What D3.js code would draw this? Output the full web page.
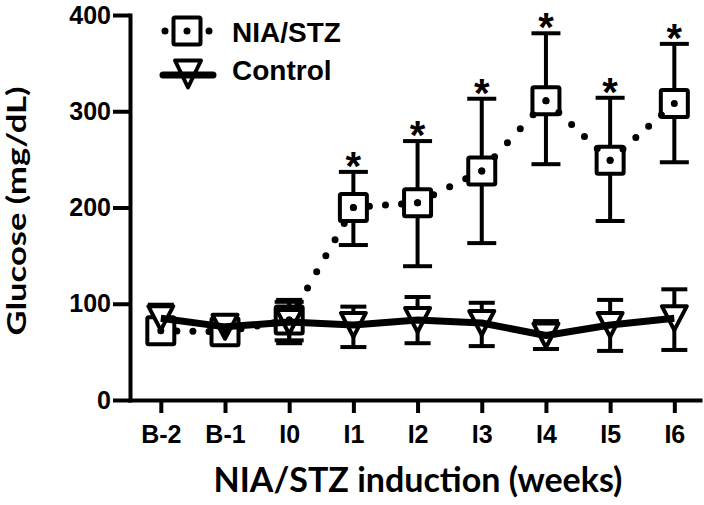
<!DOCTYPE html>
<html><head><meta charset="utf-8">
<script src="https://cdn.jsdelivr.net/npm/d3@7"></script>
<style>
html,body{margin:0;padding:0;background:#fff;}
svg{display:block;}
</style></head>
<body>
<script>
const categories = ["B-2","B-1","I0","I1","I2","I3","I4","I5","I6"];
const niaMean  = [72, 71, 83, 200, 205, 238, 311, 249, 308];
const niaUpper = [80, 77, 102, 237, 269, 313, 381, 314, 370];
const niaLower = [63, 65, 62, 161, 139, 163, 245, 186, 247];
const ctrlMean  = [85, 76, 81, 78, 83, 80, 67, 78, 85];
const ctrlUpper = [99, 84, 104, 97, 107, 101, 82, 104, 115];
const ctrlLower = [72, 68, 59, 55, 59, 56, 53, 51, 52];
const significant = [false, false, false, true, true, true, true, true, true];
const yTicks = [0, 100, 200, 300, 400];
const seriesNames = ["NIA/STZ", "Control"];
const xTitle = "NIA/STZ induction (weeks)";
const yTitle = "Glucose (mg/dL)";

const W = 704, H = 505;
const svg = d3.select("body").append("svg").attr("width", W).attr("height", H);

const x = d3.scaleLinear().domain([-0.48, 8.4]).range([130, 700]);
const y = d3.scaleLinear().domain([0, 400]).range([400, 15]);
const idx = d3.range(categories.length);

const sansBold = "'Liberation Sans', Arial, sans-serif";
const titleFont = "Lato, 'Open Sans', sans-serif";

// axes
const yAxis = svg.append("g").attr("transform", "translate(130,0)")
  .call(d3.axisLeft(y).tickValues(yTicks).tickSize(17).tickSizeOuter(0).tickPadding(2));
const xAxis = svg.append("g").attr("transform", "translate(0,400)")
  .call(d3.axisBottom(x).tickValues(idx).tickFormat(i => categories[i]).tickSize(13).tickSizeOuter(0).tickPadding(12));
[yAxis, xAxis].forEach(g => {
  g.select(".domain").attr("stroke", "#000").attr("stroke-width", 4).attr("stroke-linecap", "square");
  g.selectAll(".tick line").attr("stroke", "#000").attr("stroke-width", 4);
  g.selectAll(".tick text").attr("fill", "#000").style("font-family", sansBold)
    .style("font-weight", "bold").style("font-size", "25px");
});

// titles
svg.append("text").attr("x", 418).attr("y", 492).attr("text-anchor", "middle")
  .style("font-family", titleFont).style("font-weight", "bold").style("font-size", "34px").text(xTitle);
svg.append("text").attr("transform", "translate(26,211) rotate(-90) scale(1.28,1)").attr("text-anchor", "middle")
  .style("font-family", titleFont).style("font-weight", "bold").style("font-size", "27px").text(yTitle);

// error bars
function errorBars(upper, lower, capW) {
  const g = svg.append("g").attr("stroke", "#000").attr("stroke-width", 4).attr("fill", "none");
  idx.forEach(i => {
    g.append("line").attr("x1", x(i)).attr("x2", x(i)).attr("y1", y(upper[i])).attr("y2", y(lower[i]));
    g.append("line").attr("x1", x(i) - capW/2).attr("x2", x(i) + capW/2).attr("y1", y(upper[i])).attr("y2", y(upper[i]));
    g.append("line").attr("x1", x(i) - capW/2).attr("x2", x(i) + capW/2).attr("y1", y(lower[i])).attr("y2", y(lower[i]));
  });
}
errorBars(niaUpper, niaLower, 29);
errorBars(ctrlUpper, ctrlLower, 26);

// markers
const sq = 27;
function square(g, cx, cy) {
  g.append("rect").attr("x", cx - sq/2).attr("y", cy - sq/2).attr("width", sq).attr("height", sq)
    .attr("fill", "#fff").attr("stroke", "#000").attr("stroke-width", 4).attr("rx", 1.5);
}
function tri(g, cx, cy, w, h) {
  g.append("path").attr("d", `M${cx - w/2},${cy - h/2}L${cx + w/2},${cy - h/2}L${cx},${cy + h/2}Z`)
    .attr("fill", "#fff").attr("stroke", "#000").attr("stroke-width", 4).attr("stroke-linejoin", "round");
}
const mk = svg.append("g");
idx.forEach(i => square(mk, x(i), y(niaMean[i])));
idx.forEach(i => tri(mk, x(i), y(ctrlMean[i]), 25, 24));

// NIA dotted line, segment by segment so each point gets a dot
const dots = svg.append("g").attr("stroke", "#000").attr("stroke-width", 7).attr("stroke-linecap", "round").attr("fill", "none");
for (let i = 0; i < idx.length - 1; i++) {
  const x1 = x(i), y1 = y(niaMean[i]), x2 = x(i+1), y2 = y(niaMean[i+1]);
  const L = Math.hypot(x2 - x1, y2 - y1);
  const n = Math.max(1, Math.round(L / 18));
  dots.append("line").attr("x1", x1).attr("y1", y1).attr("x2", x2).attr("y2", y2)
    .attr("stroke-dasharray", `0 ${L/n - 0.001}`);
}
// Control solid line
svg.append("path").datum(idx)
  .attr("d", d3.line().x(i => x(i)).y(i => y(ctrlMean[i])))
  .attr("fill", "none").attr("stroke", "#000").attr("stroke-width", 7).attr("stroke-linejoin", "round");

// significance asterisks
svg.append("g").selectAll("text").data(idx.filter(i => significant[i])).join("text")
  .attr("x", i => x(i)).attr("y", i => y(niaUpper[i]) + 8).attr("text-anchor", "middle")
  .style("font-family", sansBold).style("font-weight", "bold").style("font-size", "40px").text("*");

// legend
const lg = svg.append("g");
lg.append("line").attr("x1", 165).attr("x2", 209).attr("y1", 31).attr("y2", 31)
  .attr("stroke", "#000").attr("stroke-width", 7).attr("stroke-linecap", "round").attr("stroke-dasharray", "0 21.999");
square(lg, 187, 31);
lg.append("circle").attr("cx", 187).attr("cy", 31).attr("r", 3.5).attr("fill", "#000");
tri(lg, 188, 74, 26, 27);
lg.append("line").attr("x1", 163).attr("x2", 213).attr("y1", 75).attr("y2", 75)
  .attr("stroke", "#000").attr("stroke-width", 7).attr("stroke-linecap", "round");
seriesNames.forEach((s, k) => {
  lg.append("text").attr("x", 232).attr("y", k === 0 ? 42 : 80)
    .style("font-family", sansBold).style("font-weight", "bold").style("font-size", "28px").text(s);
});
</script>
</body></html>
